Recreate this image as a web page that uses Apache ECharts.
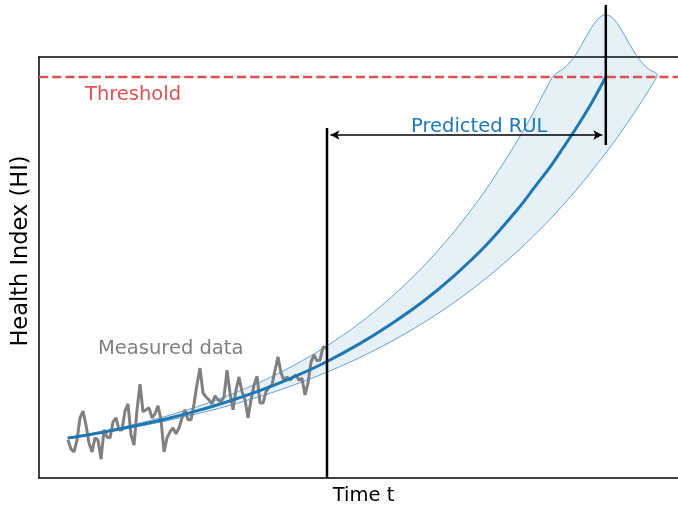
<!DOCTYPE html>
<html>
<head>
<meta charset="utf-8">
<script src="https://cdn.jsdelivr.net/npm/echarts@6/dist/echarts.min.js"></script>
<style>html,body{margin:0;padding:0;background:#fff}#c{width:678px;height:507px}</style>
</head>
<body>
<div id="c"></div>
<script>
// ---- data (time t in arbitrary units 0..100, Health Index in % of threshold) ----
const thresholdHI = 100;
const currentT = 45.07;
const failureT = 88.7;

// measured HI, sampled evenly in time starting at measuredT0 with step measuredDt
const measuredT0 = 4.54;
const measuredDt = 0.4695;
const measuredHI = [9.5,7.2,6.5,9.5,15.0,16.7,13.2,8.7,6.5,10.0,9.5,4.7,12.0,10.2,10.0,14.0,15.0,12.0,12.0,16.7,
  18.5,10.7,8.2,17.0,23.4,16.5,17.0,17.5,15.0,16.0,18.0,14.5,6.5,10.0,11.5,12.5,11.0,12.5,15.0,17.0,
  14.5,14.5,18.5,23.4,27.4,21.2,20.2,19.5,18.5,20.5,19.5,19.0,20.2,26.9,21.2,17.0,22.0,25.2,21.5,19.5,
  15.0,19.5,23.2,25.4,18.7,18.7,21.5,22.7,23.2,26.9,30.2,26.2,24.4,25.2,24.4,25.2,25.7,24.4,24.9,20.7,
  23.7,28.9,30.7,29.2,29.4,32.7,32.4];

// fitted degradation trend
const meanT  = [4.5, 8, 12, 16, 20, 24, 28, 32, 36, 40, 45, 50, 55, 60, 65, 70, 75, 77.5, 80, 82, 84, 86.5, 88.7];
const meanHI = [10.0, 10.87, 12.03, 13.33, 14.79, 16.43, 18.27, 20.34, 22.66, 25.28, 29.0, 33.32, 38.3, 43.9, 50.5, 58.1, 67.2, 72.4, 77.6, 82.3, 87.1, 93.6, 100];

// confidence band bounds
const upperT  = [4.5, 8, 12, 16, 20, 24, 28, 32, 36, 40, 45, 50, 55, 60, 65, 70, 75, 78, 80.3];
const upperHI = [10.0, 10.98, 12.29, 13.78, 15.47, 17.40, 19.60, 22.11, 24.95, 28.20, 32.89, 38.41, 44.90, 52.53, 61.51, 72.07, 84.49, 92.97, 100];
const lowerT  = [4.5, 8, 12, 16, 20, 24, 28, 32, 36, 40, 45, 50, 55, 60, 65, 70, 75, 80, 85, 90, 94, 96.7];
const lowerHI = [10.0, 10.79, 11.83, 12.99, 14.28, 15.72, 17.31, 19.08, 21.06, 23.25, 26.35, 29.88, 33.93, 38.54, 43.81, 49.84, 56.73, 64.59, 73.58, 83.85, 93.11, 100];

// RUL distribution cap drawn above the threshold
const pdfT  = [81, 82, 83, 84, 85, 86, 87, 88, 88.7, 89.5, 90.5, 91.5, 92.5, 93.5, 94.5, 95.5, 96.7];
const pdfHI = [101.0, 102.0, 103.5, 105.6, 108.3, 111.1, 113.6, 115.2, 115.5, 115.1, 113.4, 110.8, 108.0, 105.4, 103.3, 101.9, 100.8];

// marker extents
const currentLineHI = [0, 87.3];
const failureLineHI = [83.05, 118.0];
const arrowHI = 85.55;

// ---- build ----
const zip = (a, b) => a.map((v, i) => [v, b[i]]);
const measured = measuredHI.map((v, i) => [measuredT0 + i * measuredDt, v]);
const upperPts = zip(upperT, upperHI);
const capPts = [[upperT[upperT.length - 1], upperHI[upperHI.length - 1]]].concat(zip(pdfT, pdfHI), [[lowerT[lowerT.length - 1], lowerHI[lowerHI.length - 1]]]);
const lowerPts = zip(lowerT, lowerHI);

const BLUE = '#1f77b4';
const RED = '#de5253';
const FONT = '"DejaVu Sans", sans-serif';

const chart = echarts.init(document.getElementById('c'), null, {renderer: 'canvas'});
const hiddenAxis = {axisTick: {show: false}, axisLabel: {show: false}, splitLine: {show: false}};
const bandStroke = 'rgba(31,119,180,0.75)';
chart.setOption({
  animation: false,
  grid: {left: 39, top: 57, right: 0, bottom: 29},
  xAxis: [
    Object.assign({type: 'value', min: 0, max: 100, position: 'bottom',
      axisLine: {show: true, onZero: false, lineStyle: {color: '#000', width: 1.5}}}, hiddenAxis),
    Object.assign({type: 'value', min: 0, max: 100, position: 'top',
      axisLine: {show: true, onZero: false, lineStyle: {color: '#000', width: 1.5}}}, hiddenAxis)
  ],
  yAxis: Object.assign({type: 'value', min: 0, max: 105,
    axisLine: {show: true, onZero: false, lineStyle: {color: '#000', width: 1.5}}}, hiddenAxis),
  series: [
    {
      type: 'custom', z: 1, silent: true, clip: false,
      data: [[0, 0]],
      renderItem: function (params, api) {
        const up = upperPts.map(p => api.coord(p));
        const cap = capPts.map(p => api.coord(p));
        const low = lowerPts.map(p => api.coord(p));
        return {
          type: 'group',
          children: [
            {type: 'polygon', shape: {points: up.concat(cap.slice(1, -1), low.slice().reverse()), smooth: 0.3},
             style: {fill: 'rgba(31,119,180,0.11)', stroke: null}},
            {type: 'polyline', shape: {points: up, smooth: 0.3}, style: {stroke: bandStroke, lineWidth: 0.9, fill: null}},
            {type: 'polyline', shape: {points: cap, smooth: 0.3}, style: {stroke: bandStroke, lineWidth: 0.9, fill: null}},
            {type: 'polyline', shape: {points: low, smooth: 0.3}, style: {stroke: bandStroke, lineWidth: 0.9, fill: null}}
          ]
        };
      }
    },
    {
      type: 'line', z: 3, data: measured, showSymbol: false, symbol: 'none',
      lineStyle: {color: '#808080', width: 3}
    },
    {
      type: 'line', z: 4, data: zip(meanT, meanHI), smooth: 0.3, symbol: 'none',
      lineStyle: {color: BLUE, width: 3}
    },
    {
      type: 'line', z: 5, data: [[0, thresholdHI], [100, thresholdHI]], symbol: 'none',
      lineStyle: {color: RED, width: 2.5, type: [9.2, 4]}
    },
    {
      type: 'line', z: 6, data: [[currentT, currentLineHI[0]], [currentT, currentLineHI[1]]], symbol: 'none',
      lineStyle: {color: '#000', width: 2.5}
    },
    {
      type: 'line', z: 6, data: [[failureT, failureLineHI[0]], [failureT, failureLineHI[1]]], symbol: 'none',
      lineStyle: {color: '#000', width: 2.5}, clip: false
    },
    {
      type: 'line', z: 6, data: [], symbol: 'none',
      markLine: {
        silent: true, symbol: ['arrow', 'arrow'], symbolSize: [7, 9],
        label: {show: false},
        lineStyle: {color: '#000', width: 1.5, type: 'solid'},
        emphasis: {disabled: true},
        data: [[{coord: [currentT + 0.55, arrowHI]}, {coord: [failureT - 0.55, arrowHI]}]]
      }
    }
  ],
  graphic: [
    {type: 'text', x: 85, y: 94.5, z: 10, style: {text: 'Threshold', fill: RED, font: '19.5px ' + FONT, textAlign: 'left', textVerticalAlign: 'middle'}},
    {type: 'text', x: 411, y: 127.2, z: 10, style: {text: 'Predicted RUL', fill: BLUE, font: '19.5px ' + FONT, textAlign: 'left', textVerticalAlign: 'middle'}},
    {type: 'text', x: 98, y: 348.8, z: 10, style: {text: 'Measured data', fill: '#808080', font: '19.5px ' + FONT, textAlign: 'left', textVerticalAlign: 'middle'}},
    {type: 'text', x: 363.5, y: 495.5, z: 10, style: {text: 'Time t', fill: '#000', font: '19.5px ' + FONT, textAlign: 'center', textVerticalAlign: 'middle'}},
    {type: 'text', x: 21, y: 251, rotation: Math.PI / 2, z: 10, style: {text: 'Health Index (HI)', fill: '#000', font: '22.5px ' + FONT, textAlign: 'center', textVerticalAlign: 'middle'}}
  ]
});
</script>
</body>
</html>
